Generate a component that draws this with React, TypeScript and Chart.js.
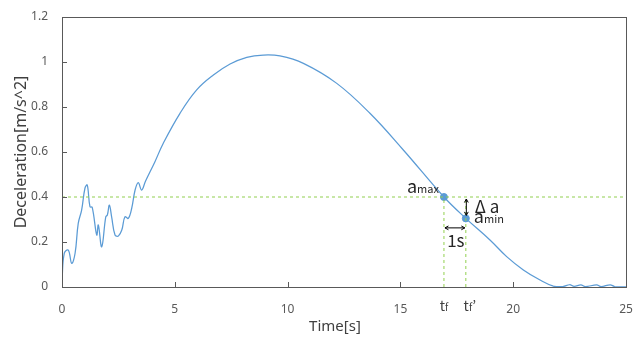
import React, { useEffect, useRef } from "react";
import { Chart, registerables } from "chart.js";

Chart.register(...registerables);

// ---- data ----
const timeValues = [
  0.0, 0.1, 0.28, 0.43, 0.58, 0.72, 0.87, 1.02, 1.12, 1.24, 1.34, 1.54, 1.61, 1.76, 1.94, 2.01, 2.1, 2.2, 2.35, 2.5,
  2.65, 2.79, 2.94, 3.09, 3.24, 3.38, 3.53, 3.7, 4.12, 4.49, 5.23, 5.97, 6.71, 7.45, 8.19, 8.92, 9.66, 10.7, 12.18,
  13.65, 15.13, 16.93, 17.9, 18.97, 19.71, 20.45, 21.19, 21.78, 22.2, 22.5, 22.7, 23.0, 23.2, 23.7, 23.9, 24.3, 24.5, 25.0,
];
const decelValues = [
  0.03, 0.15, 0.164, 0.105, 0.15, 0.283, 0.342, 0.44, 0.453, 0.357, 0.354, 0.231, 0.276, 0.179, 0.312, 0.32, 0.364,
  0.312, 0.231, 0.227, 0.253, 0.312, 0.305, 0.35, 0.431, 0.464, 0.431, 0.47, 0.557, 0.639, 0.772, 0.876, 0.942, 0.991,
  1.021, 1.031, 1.027, 0.994, 0.905, 0.772, 0.609, 0.4, 0.305, 0.209, 0.135, 0.076, 0.031, 0.004, 0.002, 0.01, 0.003,
  0.009, 0.002, 0.009, 0.002, 0.01, 0.002, 0.0,
];
const xTickValues = [0, 5, 10, 15, 20, 25];
const yTickValues = [0, 0.2, 0.4, 0.6, 0.8, 1.0, 1.2];
const threshold = 0.4;
const tf = 16.93;
const tfPrime = 17.9;
const aMax = 0.4;
const aMin = 0.305;

const xTitle = "Time[s]";
const yTitle = "Deceleration[m/s^2]";

const LINE_BLUE = "#5B9BD5";
const DASH_GREEN = "#92D050";
const AXIS_GRAY = "#595959";
const FONT = "'Noto Sans', sans-serif";
const ANNO_FONT = "'Noto Sans CJK JP', 'Noto Sans', sans-serif";

function drawArrow(ctx: CanvasRenderingContext2D, x1: number, y1: number, x2: number, y2: number) {
  const head = 4;
  const ang = Math.atan2(y2 - y1, x2 - x1);
  ctx.beginPath();
  ctx.moveTo(x1, y1);
  ctx.lineTo(x2, y2);
  ctx.stroke();
  const heads: [number, number, number][] = [
    [x2, y2, ang],
    [x1, y1, ang + Math.PI],
  ];
  for (const [hx, hy, a] of heads) {
    ctx.beginPath();
    ctx.moveTo(hx - head * Math.cos(a - 0.5), hy - head * Math.sin(a - 0.5));
    ctx.lineTo(hx, hy);
    ctx.lineTo(hx - head * Math.cos(a + 0.5), hy - head * Math.sin(a + 0.5));
    ctx.stroke();
  }
}

function drawSub(
  ctx: CanvasRenderingContext2D,
  main: string,
  sub: string,
  suffix: string,
  x: number,
  y: number,
  align: "left" | "right" | "center",
  mainSize: number,
  subSize: number
) {
  ctx.font = `${mainSize}px ${ANNO_FONT}`;
  const w1 = ctx.measureText(main).width;
  const w3 = ctx.measureText(suffix).width;
  ctx.font = `${subSize}px ${ANNO_FONT}`;
  const w2 = ctx.measureText(sub).width;
  const total = w1 + w2 + w3;
  let sx = x;
  if (align === "right") sx = x - total;
  if (align === "center") sx = x - total / 2;
  ctx.textAlign = "left";
  ctx.textBaseline = "alphabetic";
  ctx.font = `${mainSize}px ${ANNO_FONT}`;
  ctx.fillText(main, sx, y);
  ctx.font = `${subSize}px ${ANNO_FONT}`;
  ctx.fillText(sub, sx + w1, y);
  if (suffix) {
    ctx.font = `${mainSize}px ${ANNO_FONT}`;
    ctx.fillText(suffix, sx + w1 + w2, y);
  }
}

const framePlugin = {
  id: "frameAndNotes",
  afterDatasetsDraw(chart: any) {
    const { ctx, chartArea, scales } = chart;
    const { left, right, top, bottom } = chartArea;
    const xs = scales.x;
    const ys = scales.y;
    ctx.save();
    // box
    ctx.strokeStyle = AXIS_GRAY;
    ctx.lineWidth = 1;
    ctx.strokeRect(Math.round(left) + 0.5, Math.round(top) + 0.5, Math.round(right - left), Math.round(bottom - top));
    // inward ticks
    ctx.beginPath();
    for (const v of xTickValues) {
      const px = Math.round(xs.getPixelForValue(v)) + 0.5;
      ctx.moveTo(px, bottom);
      ctx.lineTo(px, bottom - 5);
    }
    for (const v of yTickValues) {
      const py = Math.round(ys.getPixelForValue(v)) + 0.5;
      ctx.moveTo(left, py);
      ctx.lineTo(left + 5, py);
    }
    ctx.stroke();

    // annotations
    const xA = xs.getPixelForValue(tf);
    const xB = xs.getPixelForValue(tfPrime);
    const yA = ys.getPixelForValue(aMax);
    const yB = ys.getPixelForValue(aMin);
    ctx.strokeStyle = "#000000";
    ctx.lineWidth = 1;
    drawArrow(ctx, xB + 0.5, yA + 2, xB + 0.5, yB - 3);
    drawArrow(ctx, xA + 1, yB + 9.5, xB - 1, yB + 9.5);

    ctx.fillStyle = "#262626";
    drawSub(ctx, "a", "max", "", xA - 5, yA - 4, "right", 18, 11);
    drawSub(ctx, "a", "min", "", xB + 8, yB + 5, "left", 18, 11);
    ctx.font = `17px ${ANNO_FONT}`;
    ctx.textAlign = "left";
    ctx.textBaseline = "alphabetic";
    ctx.fillText("\u0394 a", xB + 9, yB - 5);
    ctx.textAlign = "center";
    ctx.fillText("1s", (xA + xB) / 2 + 1, yB + 29);

    // tf labels on x axis
    ctx.fillStyle = "#404040";
    drawSub(ctx, "t", "f", "", xA, bottom + 24, "center", 14, 10);
    drawSub(ctx, "t", "f", "\u2019", xB + 4, bottom + 24, "center", 14, 10);

    // axis titles
    ctx.fillStyle = "#404040";
    ctx.font = `15px ${FONT}`;
    ctx.textAlign = "center";
    ctx.textBaseline = "middle";
    ctx.fillText(xTitle, left + 273, bottom + 40);
    ctx.font = `16px ${FONT}`;
    ctx.save();
    ctx.translate(21, (top + bottom) / 2);
    ctx.rotate(-Math.PI / 2);
    ctx.fillText(yTitle, 0, 0);
    ctx.restore();

    ctx.restore();
  },
};

function clearScalePadding(s: any) {
  s.paddingTop = 0;
  s.paddingBottom = 0;
  s.paddingLeft = 0;
  s.paddingRight = 0;
}

export default function App() {
  const ref = useRef<HTMLCanvasElement | null>(null);
  useEffect(() => {
    document.body.style.margin = "0";
    const canvas = ref.current;
    if (!canvas) return;
    const curve = timeValues.map((t, i) => ({ x: t, y: decelValues[i] }));
    const dashed = {
      borderColor: DASH_GREEN,
      borderWidth: 1,
      borderDash: [3, 3],
      pointRadius: 0,
      tension: 0,
    };
    const chart = new Chart(canvas, {
      type: "line",
      data: {
        datasets: [
          {
            label: "threshold",
            data: [
              { x: 0, y: threshold },
              { x: 25, y: threshold },
            ],
            ...dashed,
          },
          {
            label: "tf",
            data: [
              { x: tf, y: 0 },
              { x: tf, y: threshold },
            ],
            ...dashed,
          },
          {
            label: "tf'",
            data: [
              { x: tfPrime, y: 0 },
              { x: tfPrime, y: threshold },
            ],
            ...dashed,
          },
          {
            label: "deceleration",
            data: curve,
            borderColor: LINE_BLUE,
            borderWidth: 1.25,
            pointRadius: 0,
            tension: 0.4,
          },
          {
            label: "points",
            data: [
              { x: tf, y: aMax },
              { x: tfPrime, y: aMin },
            ],
            showLine: false,
            pointRadius: 3.5,
            pointBackgroundColor: LINE_BLUE,
            pointBorderColor: LINE_BLUE,
          },
        ],
      },
      options: {
        animation: false,
        responsive: true,
        maintainAspectRatio: false,
        layout: { autoPadding: false, padding: { left: 0, right: 16, top: 17, bottom: 0 } },
        plugins: { legend: { display: false }, tooltip: { enabled: false } },
        scales: {
          x: {
            type: "linear",
            min: 0,
            max: 25,
            afterFit: (s: any) => {
              s.height = 53;
              clearScalePadding(s);
            },
            grid: { display: false, drawTicks: false },
            border: { display: false },
            ticks: {
              stepSize: 5,
              padding: 15,
              color: AXIS_GRAY,
              font: { family: FONT, size: 12 },
              maxRotation: 0,
            },
          },
          y: {
            type: "linear",
            min: 0,
            max: 1.2,
            afterFit: (s: any) => {
              s.width = 62;
              clearScalePadding(s);
            },
            grid: { display: false, drawTicks: false },
            border: { display: false },
            ticks: {
              stepSize: 0.2,
              padding: 14,
              color: AXIS_GRAY,
              font: { family: FONT, size: 12 },
              callback: (v: any) => String(Math.round(Number(v) * 10) / 10),
            },
          },
        },
      },
      plugins: [framePlugin],
    });
    return () => chart.destroy();
  }, []);
  return (
    <div style={{ position: "fixed", left: 0, top: 0, width: 642, height: 340 }}>
      <canvas ref={ref} />
    </div>
  );
}
